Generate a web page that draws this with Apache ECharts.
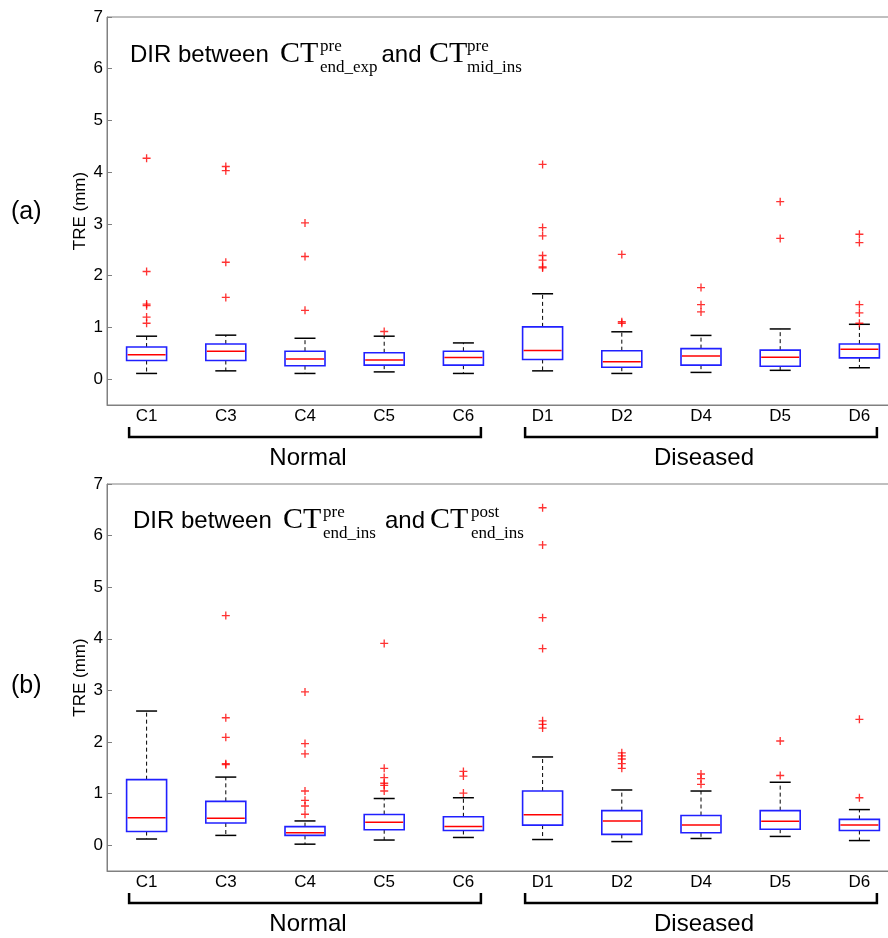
<!DOCTYPE html>
<html>
<head>
<meta charset="utf-8">
<script src="https://cdn.jsdelivr.net/npm/echarts@6/dist/echarts.min.js"></script>
<style>
html,body{margin:0;padding:0;background:#fff;overflow:hidden;}
#main{width:900px;height:938px;}
</style>
</head>
<body>
<div id="main"></div>
<script>
// ---------- data ----------
const categories = ['C1','C3','C4','C5','C6','D1','D2','D4','D5','D6'];
const yTicks = [0,1,2,3,4,5,6,7];
const groupNames = ['Normal','Diseased'];
const groupStart = ['C1','D1'];
const groupEnd = ['C6','D6'];

// panel (a): [lower whisker, Q1, median, Q3, upper whisker]
const boxesA = [
  [0.11,0.36,0.47,0.62,0.83],
  [0.16,0.36,0.54,0.68,0.85],
  [0.11,0.26,0.39,0.54,0.79],
  [0.14,0.27,0.37,0.51,0.83],
  [0.11,0.27,0.42,0.54,0.70],
  [0.16,0.38,0.555,1.01,1.65],
  [0.11,0.23,0.335,0.55,0.915],
  [0.13,0.27,0.445,0.59,0.845],
  [0.17,0.25,0.425,0.56,0.97],
  [0.22,0.41,0.58,0.68,1.06]
];
const outliersA = [
  [4.27,2.08,1.45,1.42,1.20,1.08],
  [4.11,4.03,2.26,1.58],
  [3.02,2.37,1.33],
  [0.92],
  [],
  [4.15,2.93,2.77,2.39,2.30,2.17,2.15],
  [2.41,1.11,1.08],
  [1.77,1.44,1.30],
  [3.43,2.72],
  [2.80,2.64,1.44,1.28,1.08]
];

// panel (b)
const boxesB = [
  [0.12,0.265,0.53,1.27,2.60],
  [0.19,0.43,0.52,0.85,1.32],
  [0.02,0.19,0.24,0.36,0.47],
  [0.10,0.30,0.445,0.595,0.905],
  [0.15,0.285,0.36,0.55,0.92],
  [0.11,0.39,0.59,1.05,1.71],
  [0.07,0.21,0.47,0.67,1.07],
  [0.13,0.24,0.39,0.575,1.05],
  [0.17,0.31,0.465,0.67,1.22],
  [0.09,0.285,0.39,0.50,0.69]
];
const outliersB = [
  [],
  [4.45,2.47,2.09,1.58,1.56],
  [2.97,1.97,1.77,1.05,0.87,0.76,0.60],
  [3.91,1.49,1.31,1.20,1.16,1.05],
  [1.43,1.34,1.01],
  [6.54,5.82,4.41,3.81,2.41,2.34,2.27],
  [1.79,1.73,1.67,1.58,1.49],
  [1.38,1.29,1.18],
  [2.02,1.35],
  [2.44,0.92]
];

// ---------- build ----------
const SANS = 'Liberation Sans, Arial, sans-serif';
const SERIF = 'Liberation Serif, Times New Roman, serif';
const GRAY = '#808080';

function boxData(boxes){ return boxes.map((b,i)=>[i].concat(b)); }
function outlierData(outs){
  const r=[]; outs.forEach((arr,i)=>arr.forEach(v=>r.push([categories[i], v]))); return r;
}
function renderBox(params, api){
  const idx = api.value(0);
  const lo = api.coord([idx, api.value(1)]);
  const q1 = api.coord([idx, api.value(2)]);
  const md = api.coord([idx, api.value(3)]);
  const q3 = api.coord([idx, api.value(4)]);
  const hi = api.coord([idx, api.value(5)]);
  const band = api.size([1,0])[0];
  const bw = band*0.505, cw = band*0.265;
  const x = md[0];
  const dash = {stroke:'#000', lineWidth:1, lineDash:[4,3], fill:null};
  const solid = {stroke:'#000', lineWidth:1.5, fill:null};
  return {type:'group', children:[
    {type:'line', shape:{x1:x,y1:q3[1],x2:x,y2:hi[1]}, style:dash},
    {type:'line', shape:{x1:x,y1:q1[1],x2:x,y2:lo[1]}, style:dash},
    {type:'line', shape:{x1:x-cw/2,y1:hi[1],x2:x+cw/2,y2:hi[1]}, style:solid},
    {type:'line', shape:{x1:x-cw/2,y1:lo[1],x2:x+cw/2,y2:lo[1]}, style:solid},
    {type:'rect', shape:{x:x-bw/2,y:q3[1],width:bw,height:q1[1]-q3[1]}, style:{stroke:'#2020ff', lineWidth:1.6, fill:null}},
    {type:'line', shape:{x1:x-bw/2+1,y1:md[1],x2:x+bw/2-1,y2:md[1]}, style:{stroke:'#ff0000', lineWidth:1.5}}
  ]};
}
const plusPath = 'path://M5,0h2v5h5v2h-5v5h-2v-5h-5v-2h5z';

function xAxis(gi){
  return {type:'category', gridIndex:gi, data:categories, boundaryGap:true,
    axisLine:{show:true, onZero:false, lineStyle:{color:GRAY, width:1}},
    axisTick:{show:false},
    axisLabel:{fontFamily:SANS, fontSize:17, color:'#000', margin:3},
    splitLine:{show:false}};
}
function yAxis(gi){
  return {type:'value', gridIndex:gi, min:-0.5, max:7,
    name:'TRE (mm)', nameLocation:'middle', nameGap:18, nameMoveOverlap:false,
    nameTextStyle:{fontFamily:SANS, fontSize:17, color:'#000'},
    axisLine:{show:true, lineStyle:{color:GRAY, width:1}},
    axisTick:{show:true, inside:true, length:5, lineStyle:{color:GRAY}, customValues:yTicks},
    axisLabel:{fontFamily:SANS, fontSize:17, color:'#000', margin:4, customValues:yTicks},
    splitLine:{show:false}};
}

const chart = echarts.init(document.getElementById('main'), null, {renderer:'canvas'});
chart.setOption({
  animation:false,
  backgroundColor:'#fff',
  grid:[
    {left:107, top:17, width:792, height:388, show:true, borderColor:GRAY, borderWidth:1, containLabel:false},
    {left:107, top:484, width:792, height:387, show:true, borderColor:GRAY, borderWidth:1, containLabel:false}
  ],
  xAxis:[xAxis(0), xAxis(1)],
  yAxis:[yAxis(0), yAxis(1)],
  series:[
    {type:'custom', xAxisIndex:0, yAxisIndex:0, data:boxData(boxesA), renderItem:renderBox, encode:{x:0, y:[1,2,3,4,5]}, z:2},
    {type:'scatter', xAxisIndex:0, yAxisIndex:0, data:outlierData(outliersA), symbol:plusPath, symbolSize:8, itemStyle:{color:'#ff0000'}, z:3},
    {type:'custom', xAxisIndex:1, yAxisIndex:1, data:boxData(boxesB), renderItem:renderBox, encode:{x:0, y:[1,2,3,4,5]}, z:2},
    {type:'scatter', xAxisIndex:1, yAxisIndex:1, data:outlierData(outliersB), symbol:plusPath, symbolSize:8, itemStyle:{color:'#ff0000'}, z:3}
  ]
});

// ---------- annotations ----------
function txt(x, y, s, size, fam, align){
  return {type:'text', x:x, y:y, silent:true, z:100,
    style:{text:s, fontSize:size, fontFamily:fam, fill:'#000', align:align||'left', verticalAlign:'middle'}};
}
const g = [];
function title(yBase, x0, ctX1, supsub1, andX, ctX2, supsub2, supX1, supX2){
  g.push(txt(x0, yBase-8.4, 'DIR between', 24, SANS));
  g.push(txt(ctX1, yBase-10.1, 'CT', 30, SERIF));
  g.push(txt(supX1, yBase-11.5-5.7, supsub1[0], 17, SERIF));
  g.push(txt(supX1, yBase+9.5-5.7, supsub1[1], 17, SERIF));
  g.push(txt(andX, yBase-8.4, 'and', 24, SANS));
  g.push(txt(ctX2, yBase-10.1, 'CT', 30, SERIF));
  g.push(txt(supX2, yBase-11.5-5.7, supsub2[0], 17, SERIF));
  g.push(txt(supX2, yBase+9.5-5.7, supsub2[1], 17, SERIF));
}
title(64, 130, 280, ['pre','end_exp'], 381.5, 429, ['pre','mid_ins'], 320, 467);
title(530, 133, 283, ['pre','end_ins'], 385, 430, ['post','end_ins'], 323, 471);
g.push(txt(11, 212, '(a)', 25, SANS));
g.push(txt(11, 686, '(b)', 25, SANS));
const bracketY = [437, 903];
const groupTextY = [458.3, 924.6];
[0,1].forEach(gi=>{
  groupNames.forEach((name, k)=>{
    const xa = chart.convertToPixel({xAxisIndex:gi}, groupStart[k]) - 17.5;
    const xb = chart.convertToPixel({xAxisIndex:gi}, groupEnd[k]) + 17.5;
    const y = bracketY[gi];
    g.push({type:'polyline', silent:true, z:100,
      shape:{points:[[xa,y-10],[xa,y],[xb,y],[xb,y-10]]},
      style:{stroke:'#000', lineWidth:2.5, fill:null}});
    g.push(txt((xa+xb)/2+3, groupTextY[gi], name, 24, SANS, 'center'));
  });
});
chart.setOption({graphic:g});
</script>
</body>
</html>
